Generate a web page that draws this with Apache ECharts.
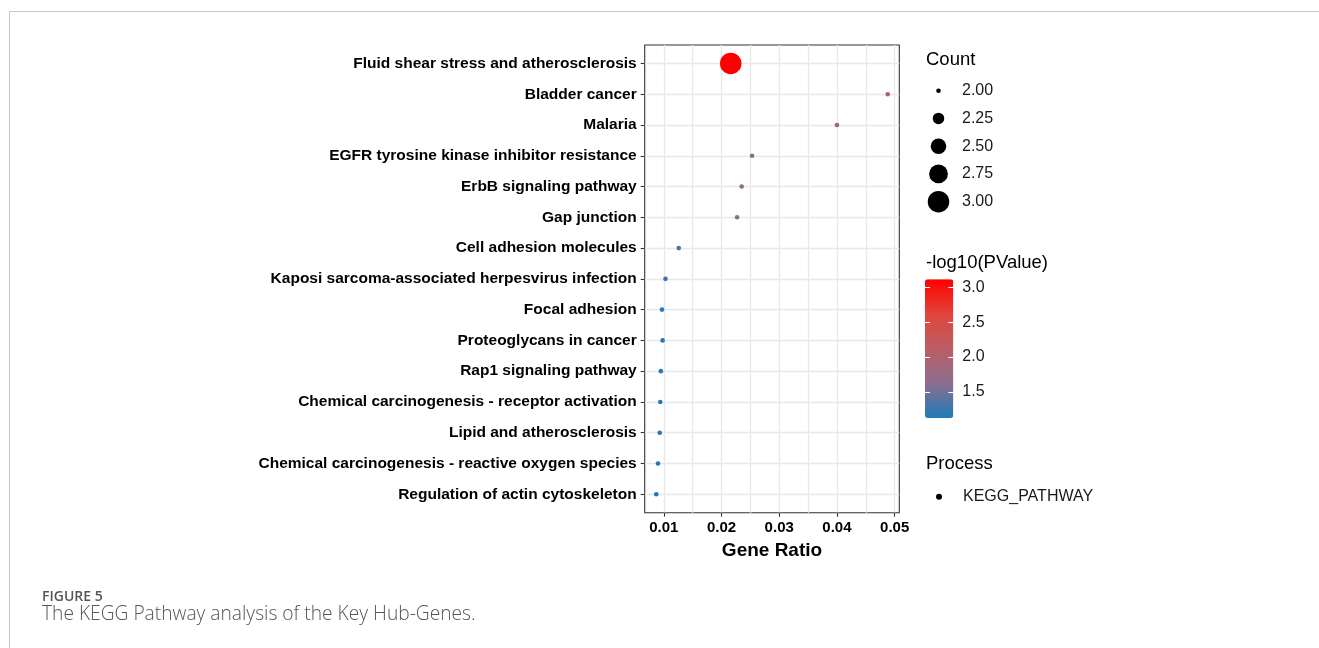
<!DOCTYPE html>
<html>
<head>
<meta charset="utf-8">
<script src="https://cdn.jsdelivr.net/npm/echarts@6/dist/echarts.min.js"></script>
<style>
  html, body { margin: 0; padding: 0; background: #fff; }
  #chart { width: 1319px; height: 648px; }
</style>
</head>
<body>
<div id="chart"></div>
<script>
// KEGG pathway enrichment, top to bottom
const pathways = [
  'Fluid shear stress and atherosclerosis',
  'Bladder cancer',
  'Malaria',
  'EGFR tyrosine kinase inhibitor resistance',
  'ErbB signaling pathway',
  'Gap junction',
  'Cell adhesion molecules',
  'Kaposi sarcoma-associated herpesvirus infection',
  'Focal adhesion',
  'Proteoglycans in cancer',
  'Rap1 signaling pathway',
  'Chemical carcinogenesis - receptor activation',
  'Lipid and atherosclerosis',
  'Chemical carcinogenesis - reactive oxygen species',
  'Regulation of actin cytoskeleton'
];
const geneRatio = [0.0216, 0.0488, 0.0400, 0.0253, 0.0235, 0.0227, 0.0126, 0.0103,
                   0.0097, 0.0098, 0.0095, 0.0094, 0.0093, 0.0090, 0.0087];
const geneCount = [3, 2, 2, 2, 2, 2, 2, 2, 2, 2, 2, 2, 2, 2, 2];
const negLog10P = [3.115, 2.00, 1.95, 1.72, 1.68, 1.65, 1.33, 1.20,
                   1.17, 1.17, 1.16, 1.15, 1.15, 1.13, 1.125];

// axis breaks
const ratioTicks = [0.01, 0.02, 0.03, 0.04, 0.05];
const ratioGridLines = [0.01, 0.015, 0.02, 0.025, 0.03, 0.035, 0.04, 0.045, 0.05];
const countBreaks = [2.00, 2.25, 2.50, 2.75, 3.00];
const pValueTicks = [1.5, 2.0, 2.5, 3.0];
const processNames = ['KEGG_PATHWAY'];

const FONT = 'Liberation Sans, Arial, sans-serif';
const rowIndex = pathways.map((_, i) => i);
const pMin = Math.min(...negLog10P);
const pMax = Math.max(...negLog10P);
const cMin = Math.min(...countBreaks);
const cMax = Math.max(...countBreaks);

// point area grows linearly with the gene count
const dMin = 4.6, dMax = 21.5;
function countSize(c) {
  const t = (c - cMin) / (cMax - cMin);
  return Math.sqrt(dMin * dMin + t * (dMax * dMax - dMin * dMin));
}

// blue -> red ramp, sampled along CIELAB
const ramp = ['#1F7AB8', '#8B6E8E', '#BB5E65', '#E0453A', '#FF0000'];

const main = { left: 644.7, top: 45, width: 254.6, height: 467.7 };

const chart = echarts.init(document.getElementById('chart'), null, { renderer: 'canvas' });

chart.setOption({
  backgroundColor: '#fff',
  animation: false,
  textStyle: { fontFamily: FONT },
  grid: [
    Object.assign({ show: true, borderColor: '#333', borderWidth: 1.1, backgroundColor: '#fff' }, main),
    { left: 925, top: 76.8, width: 27, height: 138.75 },
    { left: 925, top: 279.3, width: 28.3, height: 138.7 },
    { left: 925, top: 486.7, width: 28, height: 20 }
  ],
  xAxis: [
    {
      gridIndex: 0, type: 'value', min: 0.0067, max: 0.0508,
      axisLine: { show: false },
      axisTick: { show: false, customValues: ratioGridLines },
      axisLabel: { show: false, customValues: ratioGridLines },
      splitLine: { show: true, lineStyle: { color: '#e8e8e8', width: 1.3 } }
    },
    {
      gridIndex: 0, type: 'value', min: 0.0067, max: 0.0508, position: 'bottom',
      axisLine: { show: false },
      splitLine: { show: false },
      axisTick: { show: true, customValues: ratioTicks, length: 4, lineStyle: { color: '#333', width: 1.1 } },
      axisLabel: {
        customValues: ratioTicks, margin: 8,
        formatter: v => v.toFixed(2),
        fontSize: 15, fontWeight: 'bold', color: '#000', fontFamily: FONT
      },
      name: 'Gene Ratio', nameLocation: 'middle', nameGap: 29,
      nameTextStyle: { fontSize: 19, fontWeight: 'bold', color: '#000', fontFamily: FONT }
    },
    { gridIndex: 1, type: 'category', data: ['count'], show: false },
    { gridIndex: 2, type: 'value', show: false },
    { gridIndex: 3, type: 'category', data: ['process'], show: false }
  ],
  yAxis: [
    {
      gridIndex: 0, type: 'value', inverse: true,
      min: -0.6, max: pathways.length - 1 + 0.6,
      axisLine: { show: false },
      axisTick: { show: true, customValues: rowIndex, length: 4, lineStyle: { color: '#333', width: 1.1 } },
      axisLabel: {
        customValues: rowIndex, margin: 8,
        formatter: v => pathways[Math.round(v)] || '',
        fontSize: 15.5, fontWeight: 'bold', color: '#000', fontFamily: FONT
      },
      splitLine: { show: true, lineStyle: { color: '#e8e8e8', width: 1.3 } }
    },
    {
      gridIndex: 1, type: 'category', inverse: true, position: 'right',
      data: countBreaks.map(c => c.toFixed(2)),
      axisLine: { show: false }, axisTick: { show: false }, splitLine: { show: false },
      axisLabel: { margin: 10, fontSize: 16, color: '#1a1a1a', fontFamily: FONT }
    },
    {
      gridIndex: 2, type: 'value', position: 'left', min: pMin, max: pMax, z: 10,
      axisLine: { show: false }, splitLine: { show: false },
      axisTick: { show: true, inside: true, length: 5, customValues: pValueTicks, lineStyle: { color: '#fff', width: 1 } },
      axisLabel: { show: false, customValues: pValueTicks }
    },
    {
      gridIndex: 2, type: 'value', position: 'right', min: pMin, max: pMax, z: 10,
      axisLine: { show: false }, splitLine: { show: false },
      axisTick: { show: true, inside: true, length: 5, customValues: pValueTicks, lineStyle: { color: '#fff', width: 1 } },
      axisLabel: {
        customValues: pValueTicks, margin: 9,
        formatter: v => v.toFixed(1),
        fontSize: 16, color: '#1a1a1a', fontFamily: FONT
      }
    },
    {
      gridIndex: 3, type: 'category', position: 'right', data: processNames,
      axisLine: { show: false }, axisTick: { show: false }, splitLine: { show: false },
      axisLabel: { margin: 10, fontSize: 16, color: '#1a1a1a', fontFamily: FONT }
    }
  ],
  visualMap: [{
    type: 'continuous', seriesIndex: 0, dimension: 2,
    min: pMin, max: pMax,
    left: 925, top: 279.3, itemWidth: 28.3, itemHeight: 138.7,
    padding: 0, calculable: false, hoverLink: false,
    inRange: { color: ramp }
  }],
  series: [
    {
      name: processNames[0], type: 'scatter', xAxisIndex: 0, yAxisIndex: 0,
      data: pathways.map((p, i) => [geneRatio[i], i, negLog10P[i], geneCount[i]]),
      symbol: 'circle',
      symbolSize: v => countSize(v[3]),
      itemStyle: { opacity: 1 },
      emphasis: { disabled: true }
    },
    {
      type: 'scatter', xAxisIndex: 2, yAxisIndex: 1,
      data: countBreaks.map((c, i) => [0, i, c]),
      symbol: 'circle',
      symbolSize: v => countSize(v[2]),
      itemStyle: { color: '#000', opacity: 1 },
      emphasis: { disabled: true }, silent: true
    },
    {
      type: 'scatter', xAxisIndex: 4, yAxisIndex: 4,
      data: processNames.map((n, i) => [0, i]),
      symbol: 'circle', symbolSize: 6,
      itemStyle: { color: '#000', opacity: 1 },
      emphasis: { disabled: true }, silent: true
    }
  ],
  graphic: [
    { type: 'line', silent: true, shape: { x1: 9.5, y1: 11.5, x2: 1319, y2: 11.5 }, style: { stroke: '#c4c4c4', lineWidth: 1 } },
    { type: 'line', silent: true, shape: { x1: 9.5, y1: 11.5, x2: 9.5, y2: 648 }, style: { stroke: '#c4c4c4', lineWidth: 1 } },
    { type: 'text', left: 926, top: 50, style: { text: 'Count', fontSize: 18.5, fill: '#000', fontFamily: FONT } },
    { type: 'text', left: 926, top: 253, style: { text: '-log10(PValue)', fontSize: 18.5, fill: '#000', fontFamily: FONT } },
    { type: 'text', left: 926, top: 454, style: { text: 'Process', fontSize: 18.5, fill: '#000', fontFamily: FONT } },
    { type: 'text', left: 42, top: 590, style: { text: 'FIGURE 5', fontSize: 14, fontWeight: 600, fill: '#555', fontFamily: 'Open Sans, sans-serif' } },
    { type: 'text', left: 42, top: 605, style: { text: 'The KEGG Pathway analysis of the Key Hub-Genes.', fontSize: 19.2, fontWeight: 300, fill: '#555', fontFamily: 'Open Sans, sans-serif' } }
  ]
});
</script>
</body>
</html>
